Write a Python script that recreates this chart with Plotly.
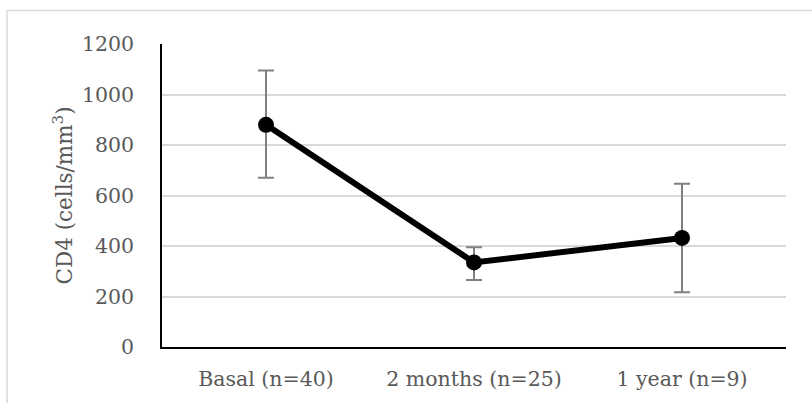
import plotly.graph_objects as go

categories = ["Basal (n=40)", "2 months (n=25)", "1 year (n=9)"]
cd4_mean = [880, 335, 432]
err_plus = [215, 60, 215]
err_minus = [210, 70, 215]
y_ticks = [0, 200, 400, 600, 800, 1000, 1200]

font_color = "#595959"
font_family = "DejaVu Serif"
fs = 20.5

fig = go.Figure()
fig.add_trace(go.Scatter(
    x=categories, y=cd4_mean,
    mode="lines+markers",
    line=dict(color="black", width=6),
    marker=dict(color="black", size=16),
    error_y=dict(type="data", symmetric=False, array=err_plus, arrayminus=err_minus,
                 color="#808080", thickness=2, width=8),
    showlegend=False,
))

fig.update_layout(
    width=812, height=403,
    margin=dict(l=162, r=26, t=44, b=56),
    paper_bgcolor="white", plot_bgcolor="white",
    font=dict(family=font_family, size=fs, color=font_color),
    xaxis=dict(
        range=[-0.5, 2.5],
        showline=True, linecolor="black", linewidth=1.5,
        showgrid=False, ticks="", ticklabelstandoff=13,
        tickfont=dict(size=fs, color=font_color),
    ),
    yaxis=dict(
        range=[0, 1200], tickvals=y_ticks,
        showline=True, linecolor="black", linewidth=1.5,
        showgrid=True, gridcolor="#d9d9d9", gridwidth=1.5,
        zeroline=False, ticks="", ticklabelstandoff=22,
        tickfont=dict(size=fs, color=font_color),
        title=dict(text="CD4 (cells/mm<sup>3</sup>)", standoff=3,
                   font=dict(size=21.5, color=font_color)),
    ),
    shapes=[dict(type="rect", xref="paper", yref="paper",
                 x0=-0.2484, x1=1.1, y0=-0.3, y1=1.1106,
                 line=dict(color="#d9d9d9", width=1.5), fillcolor="rgba(0,0,0,0)",
                 layer="below")],
)

fig.write_html("out.html")
